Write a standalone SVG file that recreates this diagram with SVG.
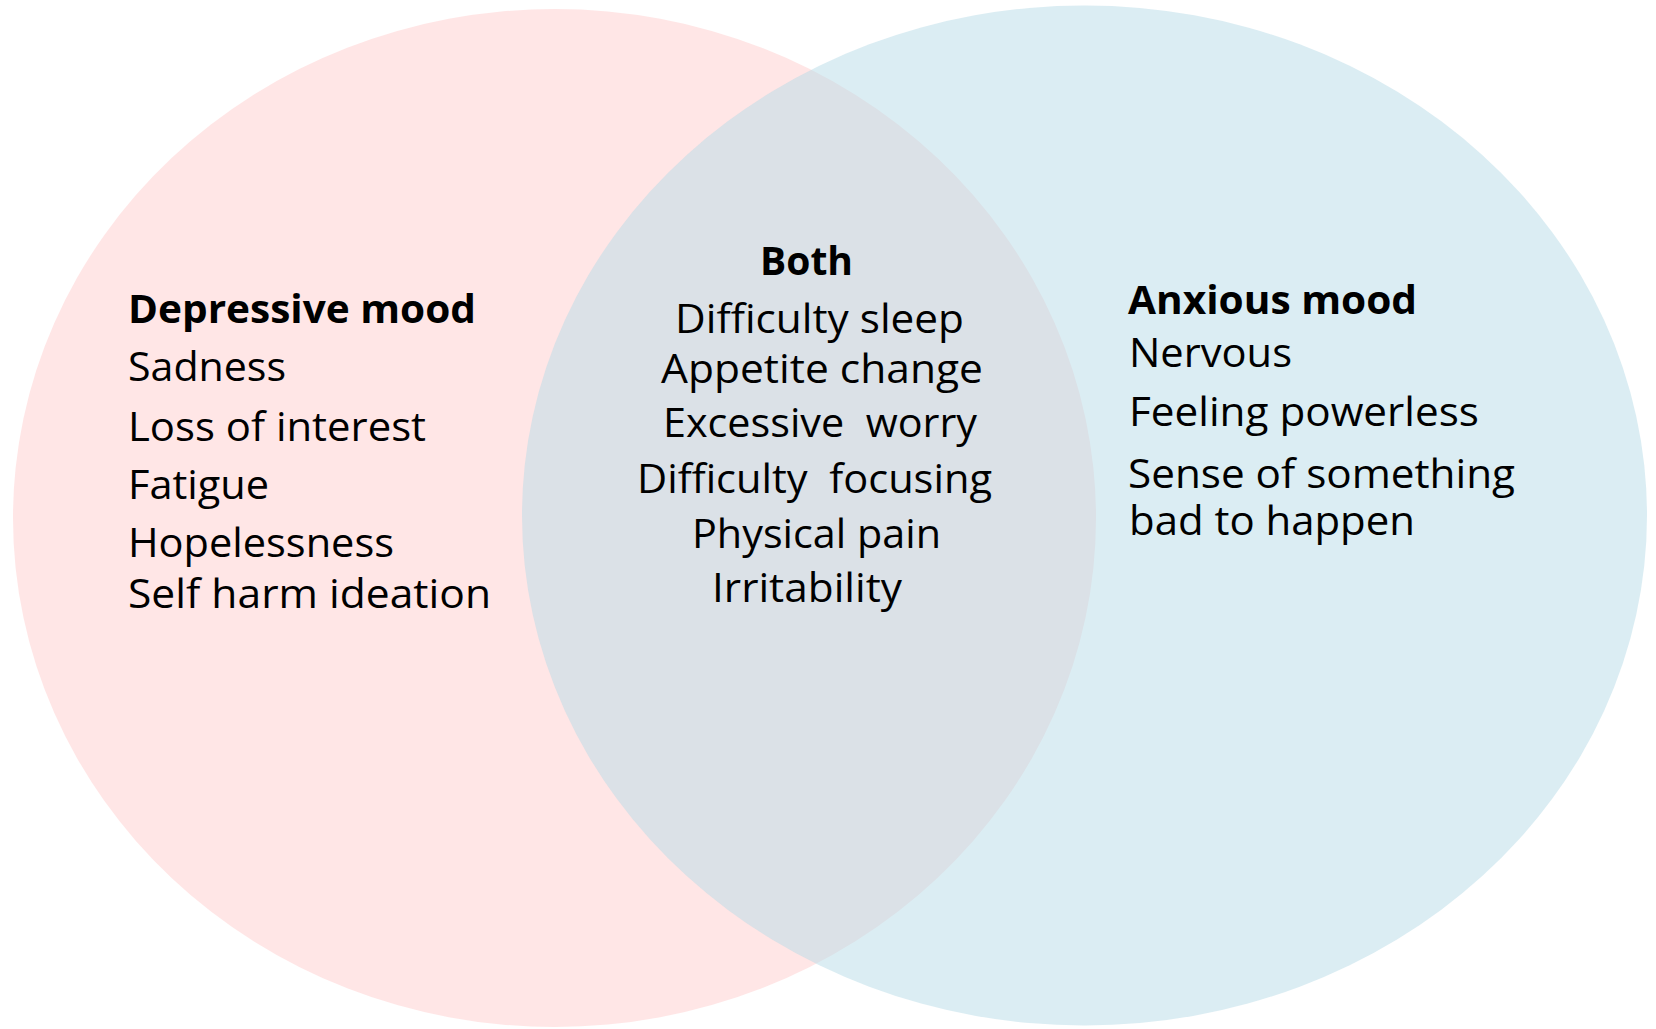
<svg xmlns="http://www.w3.org/2000/svg" width="1656" height="1029" viewBox="0 0 1656 1029">
  <style>
    .t { font-family: "Open Sans", "Liberation Sans", sans-serif; font-size: 41px; fill: #000000; white-space: pre; }
    .h { font-family: "Open Sans", "Liberation Sans", sans-serif; font-size: 40px; font-weight: bold; fill: #000000; }
    .set { fill-opacity: 0.5; stroke: none; }
  </style>
  <rect x="0" y="0" width="1656" height="1029" fill="#FFFFFF"/>
  <g id="set-depressive">
    <ellipse class="set" cx="554.5" cy="518" rx="541.5" ry="509" fill="#FFCDCD"/>
  </g>
  <g id="set-anxious">
    <ellipse class="set" cx="1084.5" cy="515.5" rx="562.5" ry="510" fill="#B7DBE7"/>
  </g>
  <g id="connectors"/>
  <g id="depressive-mood">
    <text class="h" x="128" y="323" textLength="348" lengthAdjust="spacingAndGlyphs">Depressive mood</text>
    <text class="t" x="128" y="381" textLength="158" lengthAdjust="spacingAndGlyphs">Sadness</text>
    <text class="t" x="128" y="441" textLength="298" lengthAdjust="spacingAndGlyphs">Loss of interest</text>
    <text class="t" x="128" y="499" textLength="141" lengthAdjust="spacingAndGlyphs">Fatigue</text>
    <text class="t" x="128" y="557" textLength="266" lengthAdjust="spacingAndGlyphs">Hopelessness</text>
    <text class="t" x="128" y="608" textLength="363" lengthAdjust="spacingAndGlyphs">Self harm ideation</text>
  </g>
  <g id="both">
    <text class="h" x="760" y="275" textLength="93" lengthAdjust="spacingAndGlyphs">Both</text>
    <text class="t" x="675" y="333" textLength="289" lengthAdjust="spacingAndGlyphs">Difficulty sleep</text>
    <text class="t" x="661" y="383" textLength="322" lengthAdjust="spacingAndGlyphs">Appetite change</text>
    <text class="t" x="663" y="437" textLength="314" lengthAdjust="spacingAndGlyphs">Excessive  worry</text>
    <text class="t" x="637" y="493" textLength="355" lengthAdjust="spacingAndGlyphs">Difficulty  focusing</text>
    <text class="t" x="692" y="548" textLength="249" lengthAdjust="spacingAndGlyphs">Physical pain</text>
    <text class="t" x="712" y="602" textLength="190" lengthAdjust="spacingAndGlyphs">Irritability</text>
  </g>
  <g id="anxious-mood">
    <text class="h" x="1128" y="314" textLength="289" lengthAdjust="spacingAndGlyphs">Anxious mood</text>
    <text class="t" x="1129" y="367" textLength="163" lengthAdjust="spacingAndGlyphs">Nervous</text>
    <text class="t" x="1129" y="426" textLength="350" lengthAdjust="spacingAndGlyphs">Feeling powerless</text>
    <text class="t" x="1128" y="488" textLength="387" lengthAdjust="spacingAndGlyphs">Sense of something</text>
    <text class="t" x="1129" y="535" textLength="286" lengthAdjust="spacingAndGlyphs">bad to happen</text>
  </g>
</svg>
